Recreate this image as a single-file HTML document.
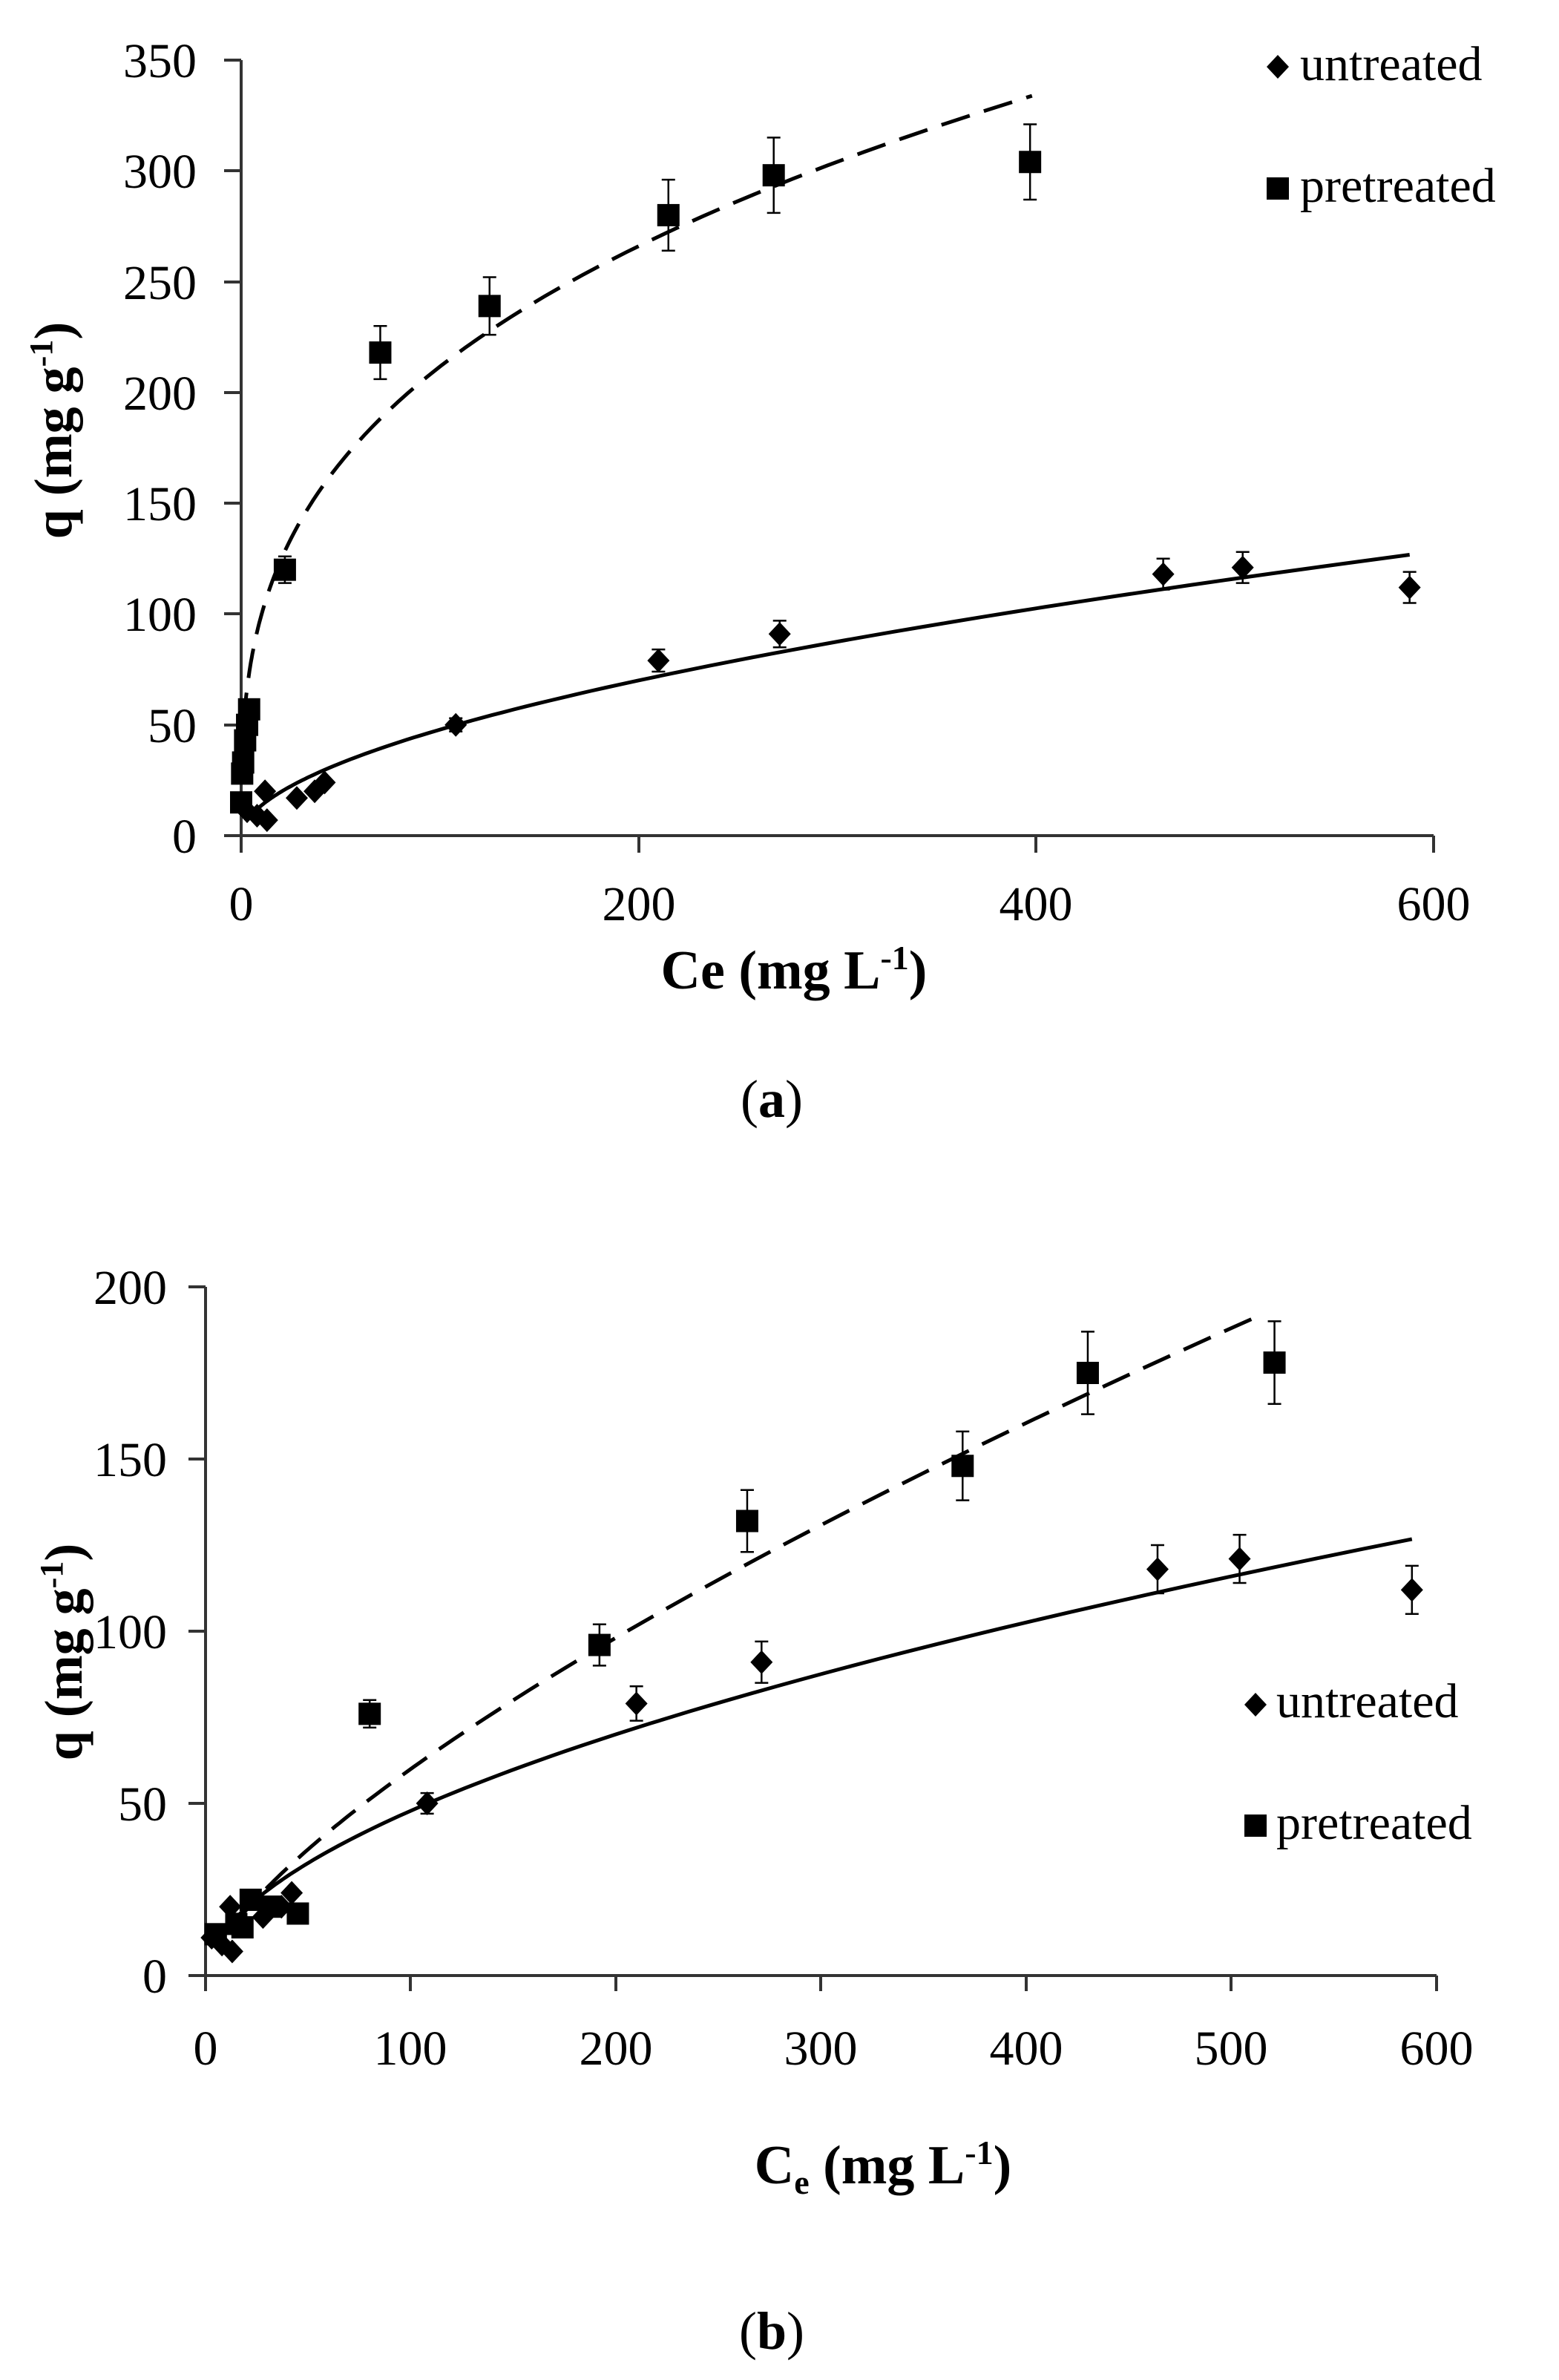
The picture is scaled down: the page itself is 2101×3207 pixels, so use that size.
<!DOCTYPE html>
<html><head><meta charset="utf-8"><style>
html,body{margin:0;padding:0;background:#fff;}
svg{display:block;}
text{font-family:"Liberation Serif",serif;fill:#000;}
</style></head><body>
<svg id="s" width="2101" height="3207" viewBox="0 0 2101 3207" xmlns="http://www.w3.org/2000/svg">
<g stroke="#333" stroke-width="4" fill="none">
<path d="M325 81 V1126 H1932"/>
<path d="M302 81H325 M302 230H325 M302 380H325 M302 529H325 M302 678H325 M302 827H325 M302 977H325 M302 1126H325"/>
<path d="M325 1126V1149 M861 1126V1149 M1396 1126V1149 M1932 1126V1149"/>
<path d="M277 1734 V2662 H1936"/>
<path d="M254 1734H277 M254 1966H277 M254 2198H277 M254 2430H277 M254 2662H277"/>
<path d="M277 2662V2683 M553 2662V2683 M830 2662V2683 M1106 2662V2683 M1383 2662V2683 M1659 2662V2683 M1936 2662V2683"/>
</g>
<g font-size="66" text-anchor="end">
<text x="265" y="104">350</text><text x="265" y="253">300</text><text x="265" y="403">250</text><text x="265" y="552">200</text><text x="265" y="701">150</text><text x="265" y="850">100</text><text x="265" y="1000">50</text><text x="265" y="1149">0</text>
<text x="225" y="1757">200</text><text x="225" y="1989">150</text><text x="225" y="2221">100</text><text x="225" y="2453">50</text><text x="225" y="2685">0</text>
</g>
<g font-size="66" text-anchor="middle">
<text x="325" y="1240">0</text><text x="861" y="1240">200</text><text x="1396" y="1240">400</text><text x="1932" y="1240">600</text>
<text x="277" y="2782">0</text><text x="553" y="2782">100</text><text x="830" y="2782">200</text><text x="1106" y="2782">300</text><text x="1383" y="2782">400</text><text x="1659" y="2782">500</text><text x="1936" y="2782">600</text>
</g>
<text x="1070" y="1332" font-size="74" font-weight="bold" text-anchor="middle">Ce (mg L<tspan font-size="46" dy="-26">-1</tspan><tspan dy="26">)</tspan></text>
<text transform="translate(96,580) rotate(-90)" font-size="72" font-weight="bold" text-anchor="middle">q (mg g<tspan font-size="44" dy="-26">-1</tspan><tspan dy="26">)</tspan></text>
<text x="1190" y="2942" font-size="74" font-weight="bold" text-anchor="middle">C<tspan font-size="46" dy="14">e</tspan><tspan dy="-14"> (mg L</tspan><tspan font-size="46" dy="-26">-1</tspan><tspan dy="26">)</tspan></text>
<text transform="translate(110,2226) rotate(-90)" font-size="72" font-weight="bold" text-anchor="middle">q (mg g<tspan font-size="44" dy="-26">-1</tspan><tspan dy="26">)</tspan></text>
<text x="1040" y="1505" font-size="72" text-anchor="middle">(<tspan font-weight="bold">a</tspan>)</text>
<text x="1040" y="3165" font-size="72" text-anchor="middle">(<tspan font-weight="bold">b</tspan>)</text>
<g font-size="66">
<text x="1752" y="108">untreated</text><text x="1752" y="272">pretreated</text>
<text x="1720" y="2314">untreated</text><text x="1720" y="2478">pretreated</text>
</g>
<g id="d"></g>
</svg>
<script>
var g=document.getElementById('d'),h='';
function A(v){return [325+v[0]*2.678,1126-v[1]*2.986];}
function B(v){return [277+v[0]*2.765,2662-v[1]*4.64];}
function dia(x,y){h+='<path d="M'+x+' '+(y-16)+'L'+(x+15)+' '+y+'L'+x+' '+(y+16)+'L'+(x-15)+' '+y+'Z" fill="#000"/>';}
function sq(x,y){h+='<rect x="'+(x-15)+'" y="'+(y-15)+'" width="30" height="30" fill="#000"/>';}
function eb(x,y,e){h+='<path d="M'+x+' '+(y-e)+'V'+(y+e)+'M'+(x-9)+' '+(y-e)+'H'+(x+9)+'M'+(x-9)+' '+(y+e)+'H'+(x+9)+'" stroke="#000" stroke-width="2.5"/>';}
function curve(f,K,n,c0,c1,dash){var d='';for(var i=0;i<=120;i++){var c=c0*Math.pow(c1/c0,i/120);var p=f([c,K*Math.pow(c,n)]);d+=(i?'L':'M')+p[0].toFixed(1)+' '+p[1].toFixed(1);}
h+='<path d="'+d+'" fill="none" stroke="#000" stroke-width="5"'+(dash?' stroke-dasharray="40 20"':'')+'/>';}
var un=[[3,11,0],[8,9,0],[12,20,0],[13,7,0],[28,17,0],[37,20,0],[42,24,0],[108,50,3],[210,79,5],[271,91,6],[464,118,7],[504,121,7],[588,112,7]];
var pa=[[0,15,0],[0.5,28,0],[1,33,0],[2,43,0],[3,50,0],[4,57,0],[22,120,6],[70,218,12],[125,239,13],[215,280,16],[268,298,17],[397,304,17]];
var pb=[[5,12,0],[15,15,0],[18,14,0],[22,22,0],[32,20,0],[45,18,0],[80,76,4],[192,96,6],[264,132,9],[369,148,10],[430,175,12],[521,178,12]];
curve(A,3.8,0.55,4,588,false);curve(A,46.3,0.33,0.3,398,true);
curve(B,3.8,0.55,4,588,false);curve(B,2.28,0.71,15,512,true);
un.forEach(function(v){var p=A(v);if(v[2])eb(p[0],p[1],v[2]*2.986);dia(p[0],p[1]);p=B(v);if(v[2])eb(p[0],p[1],v[2]*4.64);dia(p[0],p[1]);});
pa.forEach(function(v){var p=A(v);if(v[2])eb(p[0],p[1],v[2]*2.986);sq(p[0],p[1]);});
pb.forEach(function(v){var p=B(v);if(v[2])eb(p[0],p[1],v[2]*4.64);sq(p[0],p[1]);});
dia(1722,90);sq(1722,254);dia(1692,2297);sq(1692,2460);
g.innerHTML=h;
</script>
</body></html>
